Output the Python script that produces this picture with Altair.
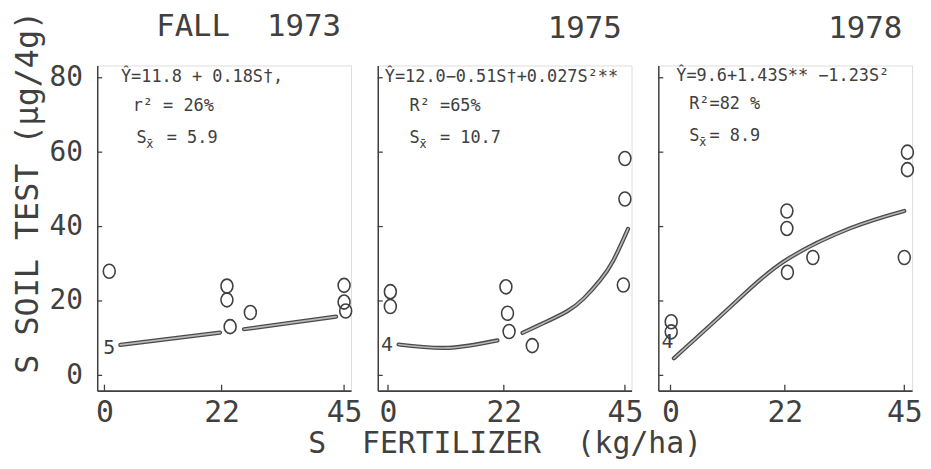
import altair as alt
import pandas as pd

FONT = "DejaVu Sans Mono"
INK = "#404040"
NB = "\u00a0"

# ---------------- data ----------------
panel_titles = ["FALL" + NB + NB + "1973", "1975", "1978"]
x_domains = [[-1.36, 46.3], [-1.94, 46.26], [-2.35, 46.5]]
y_domain = [-4.1, 83.3]
x_ticks = [0, 22, 45]
y_ticks = [0, 20, 40, 60, 80]

# observed soil-test values (circles)
obs_x_1973 = [0.9, 23.0, 23.0, 23.6, 27.4, 45.0, 45.0, 45.3]
obs_y_1973 = [28.0, 24.0, 20.3, 13.1, 16.9, 24.2, 19.7, 17.3]
obs_x_1975 = [0.45, 0.45, 22.4, 22.7, 23.0, 27.4, 44.7, 45.0, 45.0]
obs_y_1975 = [22.5, 18.5, 23.8, 16.7, 11.8, 8.0, 24.3, 58.3, 47.4]
obs_x_1978 = [0.13, 0.13, 22.4, 22.4, 22.5, 27.4, 45.0, 45.6, 45.6]
obs_y_1978 = [14.4, 11.7, 44.2, 39.5, 27.7, 31.7, 31.7, 60.0, 55.3]

# fitted regression curves (drawn in segments)
fit_x_1973 = [2.98, 21.7, 26.2, 43.5]
fit_y_1973 = [8.2, 11.5, 12.4, 15.8]
fit_seg_1973 = [1, 1, 2, 2]
fit_x_1975 = [2.0, 11.4, 20.8, 25.55, 29.6, 34.0, 37.2, 40.3, 42.8, 45.6]
fit_y_1975 = [8.3, 7.4, 9.4, 11.4, 14.1, 17.2, 20.7, 25.6, 30.9, 39.4]
fit_seg_1975 = [1, 1, 1, 2, 2, 2, 2, 2, 2, 2]
fit_x_1978 = [0.65, 12.2, 21.8, 34.5, 45.0]
fit_y_1978 = [4.6, 19.3, 30.6, 39.5, 44.2]
fit_seg_1978 = [1, 1, 1, 1, 1]

# number of coincident observations written at S = 0
count_labels = ["5", "4", "4"]
count_x = [0.9, -0.2, -0.6]
count_y = [7.3, 8.2, 8.9]

# regression statistics (third row: S with subscript x-bar)
eq_text = [
    ["Ŷ=11.8 + 0.18S†,", "r² = 26%", "S" + NB + NB + "=" + NB + "5.9"],
    ["Ŷ=12.0−0.51S†+0.027S²**", "R²" + NB + "=65%", "S" + NB + NB + "=" + NB + "10.7"],
    ["Ŷ=9.6+1.43S**" + NB + "−1.23S²", "R²=82" + NB + "%", "S" + NB + "=" + NB + "8.9"],
]
eq_x = [[3.1, 5.3, 6.0], [-0.6, 4.1, 4.1], [1.1, 3.6, 3.6]]
eq_y = [[78.8, 71.1, 62.5], [78.8, 71.1, 62.5], [79.0, 71.5, 63.0]]
sub_text = "x̄"

y_title = "S SOIL TEST (µg/4g)"
x_title = "S" + NB + NB + "FERTILIZER" + NB + NB + "(kg/ha)"

obs = [(obs_x_1973, obs_y_1973), (obs_x_1975, obs_y_1975), (obs_x_1978, obs_y_1978)]
fits = [(fit_x_1973, fit_y_1973, fit_seg_1973),
        (fit_x_1975, fit_y_1975, fit_seg_1975),
        (fit_x_1978, fit_y_1978, fit_seg_1978)]

W, H = 256, 328
ELLIPSE = "M -0.85 0 A 0.85 1 0 1 0 0.85 0 A 0.85 1 0 1 0 -0.85 0 Z"


def panel(i):
    xs = alt.Scale(domain=x_domains[i], nice=False, zero=False)
    ys = alt.Scale(domain=y_domain, nice=False, zero=False)

    if i == 0:
        yaxis = alt.Axis(values=y_ticks, title=None, ticks=False, tickSize=0,
                         labelFont=FONT, labelFontSize=28, labelColor=INK, labelPadding=15,
                         domainColor=INK, domainWidth=1.5, grid=False)
    else:
        yaxis = alt.Axis(values=y_ticks, title=None, labels=False, ticks=False, tickSize=0,
                         domainColor=INK, domainWidth=1.5, grid=False)
    xaxis = alt.Axis(values=x_ticks, title=(x_title if i == 1 else None),
                     ticks=False, tickSize=0, labelFont=FONT, labelFontSize=30, labelColor=INK,
                     labelPadding=7, labelFlush=False,
                     titleFont=FONT, titleFontSize=30, titleFontWeight="normal", titleColor=INK,
                     titlePadding=1,
                     domainColor=INK, domainWidth=2, grid=False)

    ox, oy = obs[i]
    df_obs = pd.DataFrame({"S": ox, "v": oy})
    fx, fy, fs = fits[i]
    df_fit = pd.DataFrame({"S": fx, "v": fy, "seg": fs})
    df_yt = pd.DataFrame({"v": y_ticks})
    df_xt = pd.DataFrame({"S": x_ticks})
    df_eq = pd.DataFrame({"S": eq_x[i], "v": eq_y[i], "t": eq_text[i]})
    df_sub = pd.DataFrame({"S": [eq_x[i][2]], "v": [eq_y[i][2]], "t": [sub_text]})
    df_cnt = pd.DataFrame({"S": [count_x[i]], "v": [count_y[i]], "t": [count_labels[i]]})

    pts = alt.Chart(df_obs).mark_point(shape=ELLIPSE, size=200, filled=False,
                                       color=INK, strokeWidth=1.6, opacity=1).encode(
        x=alt.X("S:Q", scale=xs, axis=xaxis),
        y=alt.Y("v:Q", scale=ys, axis=yaxis),
    )
    fit_outer = alt.Chart(df_fit).mark_line(color="#4a4a4a", strokeWidth=4.2,
                                            interpolate="natural", strokeCap="round").encode(
        x=alt.X("S:Q", scale=xs), y=alt.Y("v:Q", scale=ys), detail="seg:N")
    fit_inner = alt.Chart(df_fit).mark_line(color="#b8b8b8", strokeWidth=1.6,
                                            interpolate="natural", strokeCap="round").encode(
        x=alt.X("S:Q", scale=xs), y=alt.Y("v:Q", scale=ys), detail="seg:N")
    ytick = alt.Chart(df_yt).mark_rule(color=INK, strokeWidth=1.3).encode(
        y=alt.Y("v:Q", scale=ys), x=alt.value(0), x2=alt.value(5))
    xtick = alt.Chart(df_xt).mark_rule(color=INK, strokeWidth=1.3).encode(
        x=alt.X("S:Q", scale=xs), y=alt.value(H), y2=alt.value(H - 6))
    eq = alt.Chart(df_eq).mark_text(align="left", baseline="alphabetic", font=FONT,
                                    fontSize=17, color=INK).encode(
        x=alt.X("S:Q", scale=xs), y=alt.Y("v:Q", scale=ys), text="t:N")
    sub = alt.Chart(df_sub).mark_text(align="left", baseline="alphabetic", font="DejaVu Sans",
                                      fontSize=12, color=INK, dx=10, dy=5).encode(
        x=alt.X("S:Q", scale=xs), y=alt.Y("v:Q", scale=ys), text="t:N")
    cnt = alt.Chart(df_cnt).mark_text(align="center", baseline="middle", font=FONT,
                                      fontSize=20, color=INK).encode(
        x=alt.X("S:Q", scale=xs), y=alt.Y("v:Q", scale=ys), text="t:N")

    return alt.layer(pts, fit_outer, fit_inner, ytick, xtick, eq, sub, cnt).properties(
        width=W, height=H,
        title=alt.TitleParams(panel_titles[i], anchor="end", frame="group", font=FONT,
                              fontSize=31, fontWeight="normal", color=INK, dx=-10, offset=21),
    )


chart = alt.hconcat(panel(0), panel(1), panel(2), spacing=27, bounds="flush").properties(
    padding={"left": 3, "top": 0, "right": 0, "bottom": 0},
    title=alt.TitleParams(y_title, orient="left", anchor="end", font=FONT, fontSize=32,
                          fontWeight="normal", color=INK, offset=4),
).configure_view(stroke=None).configure(background="white")

chart.save("out.html", embed_options={"renderer": "svg", "actions": False})
